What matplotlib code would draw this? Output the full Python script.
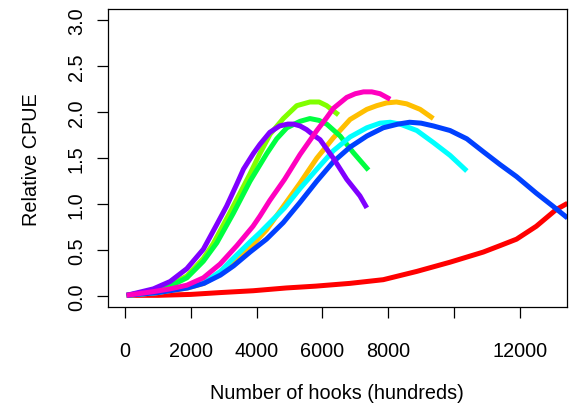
import matplotlib
matplotlib.use("Agg")
import matplotlib.pyplot as plt

plt.rcParams['font.family'] = ['Liberation Sans', 'DejaVu Sans']

# curves, x in hundreds of hooks
red_x = [50, 1000, 2000, 2900, 3900, 4900, 5800, 6840, 7850, 8870, 9880, 10890, 11400, 11900, 12500, 13100, 13450]
red_y = [0.01, 0.01, 0.02, 0.04, 0.06, 0.09, 0.11, 0.14, 0.18, 0.27, 0.37, 0.48, 0.55, 0.62, 0.76, 0.94, 1.01]

orange_x = [50, 1000, 1900, 2400, 2900, 3400, 3800, 4300, 4800, 5320, 5830, 6330, 6840, 7350, 7650, 7950,
            8250, 8560, 8970, 9370]
orange_y = [0.01, 0.04, 0.09, 0.14, 0.25, 0.40, 0.53, 0.72, 0.97, 1.23, 1.50, 1.72, 1.92, 2.03, 2.07, 2.10,
            2.11, 2.09, 2.03, 1.93]

lgreen_x = [50, 860, 1370, 1880, 2380, 2680, 3190, 3800, 4100, 4410, 4810, 5220, 5620, 5900, 6130, 6490]
lgreen_y = [0.01, 0.06, 0.12, 0.22, 0.41, 0.57, 0.91, 1.33, 1.55, 1.76, 1.93, 2.07, 2.11, 2.11, 2.07, 1.97]

green_x = [50, 860, 1370, 1880, 2380, 2790, 3290, 3800, 4310, 4610, 4920, 5320, 5620, 5900, 6130, 6540, 6940, 7400]
green_y = [0.01, 0.06, 0.11, 0.20, 0.38, 0.58, 0.90, 1.25, 1.55, 1.71, 1.83, 1.90, 1.93, 1.91, 1.87, 1.74, 1.56, 1.37]

cyan_x = [50, 1000, 1900, 2400, 2900, 3200, 3800, 4100, 4850, 5320, 5830, 6330, 6840, 7350, 7750, 8060,
          8360, 8870, 9370, 9880, 10390]
cyan_y = [0.01, 0.04, 0.10, 0.15, 0.27, 0.38, 0.59, 0.69, 0.96, 1.17, 1.38, 1.58, 1.73, 1.83, 1.88, 1.89,
          1.87, 1.80, 1.67, 1.53, 1.36]

blue_x = [50, 1000, 1900, 2400, 2900, 3300, 3800, 4300, 4810, 5320, 5830, 6330, 6840, 7350, 7850, 8300,
          8650, 9000, 9370, 9880, 10390, 10890, 11400, 11900, 12500, 13000, 13450]
blue_y = [0.01, 0.04, 0.09, 0.14, 0.23, 0.33, 0.48, 0.62, 0.80, 1.02, 1.25, 1.46, 1.62, 1.74, 1.83, 1.87,
          1.89, 1.88, 1.85, 1.80, 1.71, 1.57, 1.43, 1.30, 1.12, 0.98, 0.85]

purple_x = [50, 860, 1370, 1880, 2380, 2790, 3090, 3400, 3600, 3900, 4100, 4400, 4700, 4950, 5120, 5320,
            5520, 5730, 5930, 6330, 6740, 7140, 7350]
purple_y = [0.01, 0.08, 0.16, 0.30, 0.51, 0.78, 0.98, 1.22, 1.38, 1.55, 1.65, 1.78, 1.85, 1.87, 1.87, 1.85,
            1.81, 1.75, 1.70, 1.50, 1.27, 1.09, 0.96]

magenta_x = [50, 860, 1370, 1880, 2380, 2890, 3400, 3890, 4100, 4400, 4850, 5320, 5830, 6130, 6330, 6740,
             7000, 7250, 7500, 7750, 8060]
magenta_y = [0.01, 0.05, 0.08, 0.12, 0.20, 0.35, 0.55, 0.76, 0.87, 1.04, 1.27, 1.54, 1.80, 1.94, 2.04, 2.16,
             2.20, 2.22, 2.22, 2.20, 2.14]

series = [
    (red_x, red_y, '#FF0000'),
    (orange_x, orange_y, '#FFBF00'),
    (lgreen_x, lgreen_y, '#80FF00'),
    (green_x, green_y, '#00FF40'),
    (cyan_x, cyan_y, '#00FFFF'),
    (blue_x, blue_y, '#0040FF'),
    (purple_x, purple_y, '#8000FF'),
    (magenta_x, magenta_y, '#FF00BF'),
]

x_ticks = [0, 2000, 4000, 6000, 8000, 10000, 12000]
x_labels = ['0', '2000', '4000', '6000', '8000', '', '12000']
y_ticks = [0.0, 0.5, 1.0, 1.5, 2.0, 2.5, 3.0]

fig = plt.figure(figsize=(5.74, 4.06), dpi=100)
ax = fig.add_axes([108/574, 1 - 308.3/406, 458.7/574, 298.3/406])

for xs, ys, col in series:
    ax.plot(xs, ys, color=col, lw=3.6, solid_capstyle='butt', solid_joinstyle='round')

ax.set_xlim(-517, 13425)
ax.set_ylim(-0.12, 3.12)

ax.set_xticks(x_ticks)
ax.set_xticklabels(x_labels)
ax.set_yticks(y_ticks)
ax.set_yticklabels(['%.1f' % v for v in y_ticks], rotation=90, va='center')

ax.tick_params(axis='x', length=8, width=0.9, pad=16, labelsize=14.3)
ax.tick_params(axis='y', length=8, width=0.9, pad=8, labelsize=14.3)
for s in ax.spines.values():
    s.set_linewidth(0.9)

ax.set_xlabel('Number of hooks (hundreds)', fontsize=14.3)
ax.set_ylabel('Relative CPUE', fontsize=14.3)
ax.xaxis.set_label_coords(0.5, -0.255)
ax.yaxis.set_label_coords(-0.147, 0.5)

fig.savefig('out.png', dpi=100)
